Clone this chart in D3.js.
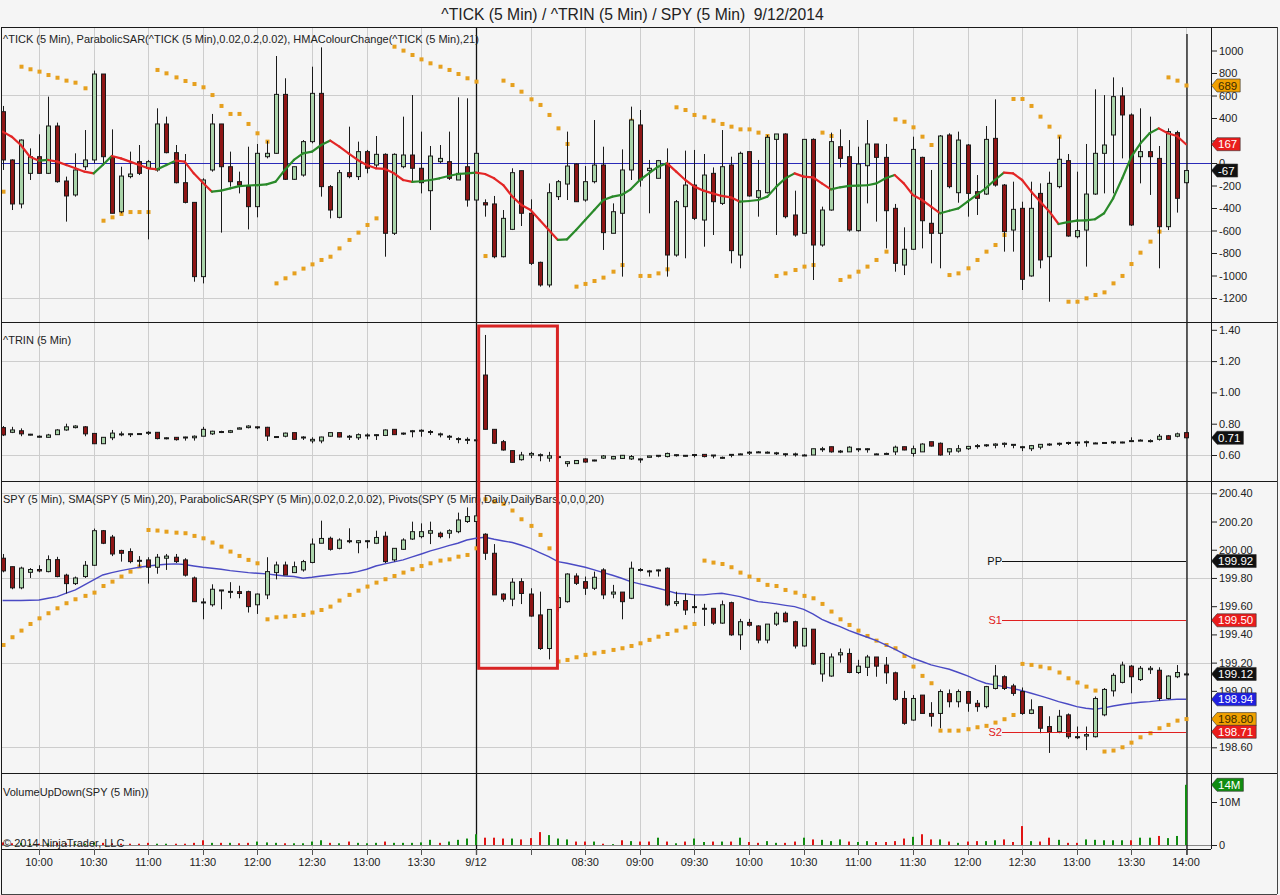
<!DOCTYPE html>
<html>
<head>
<meta charset="utf-8">
<script src="https://cdn.jsdelivr.net/npm/d3@7"></script>
<style>
  body { margin: 0; background: #f5f5f5; }
  svg { display: block; font-family: "Liberation Sans", Arial, sans-serif; }
</style>
</head>
<body>
<script>
// ---- data (bar 0 of each array is 9:40 on 9/11, bars are 5 min apart) ----
var firstBar = -4;   // bar index of array item 0, relative to the 10:00 bar

var xTickBars   = [0, 6, 12, 18, 24, 30, 36, 42, 48, 54, 60, 66, 72, 78, 84, 90, 96, 102, 108, 114, 120, 126];
var xTickLabels = ["10:00", "10:30", "11:00", "11:30", "12:00", "12:30", "13:00", "13:30", "9/12", "",
                   "08:30", "09:00", "09:30", "10:00", "10:30", "11:00", "11:30", "12:00", "12:30",
                   "13:00", "13:30", "14:00"];
var sessionBar = 48;
var lastBar = 126;

// ^TICK
var tickOpen = [456, 27, -364, -92, 56, -92, 329, -160, -284, -33,
  27, 791, 56, -433, -121, 12, -47, -62, 347, 92,
  -175, -350, -1010, -62, 347, -33, -166, -210, -388, 56,
  86, 610, -145, -107, 190, 619, -210, -483, -86, -121,
  101, -18, 77, -625, -33, 71, -47, -246, 12, 12,
  -151, -33, -329, -353, -364, -833, -590, -68, -447, -883,
  -1084, -299, -187, -9, -329, -166, -18, -625, -447, -62,
  338, -68, -136, -3, -818, -388, -196, -507, -92, -359,
  -18, -818, 101, -305, -264, 210, 258, -462, -625, 210,
  -729, -418, 145, 56, -601, -24, 169, 50, -403, -907,
  -767, 50, -536, -625, 249, -264, 160, -255, -276, 219,
  -196, -596, -403, -1004, -270, -833, -210, 21, -655, -596,
  -276, 86, 249, 596, 427, 56, 101, 41, -566, 270,
  -175];
var tickHigh = [507, 33, 210, 130, 255, 590, 359, -121, 86, 293,
  821, 791, 299, -33, 101, 160, 27, 486, 412, 160,
  80, -350, -136, 436, 347, 101, -77, 145, 169, 196,
  951, 753, -33, 204, 856, 1028, -196, -62, 323, 190,
  116, 240, 86, 86, 412, 604, 279, 151, 160, 279,
  584, 575, 101, -323, -293, -418, -47, -68, -323, -877,
  -181, -151, 279, -3, -27, 382, 145, -359, 121, 501,
  471, 27, 27, 130, -329, 110, 116, 80, -39, 293,
  56, 101, 101, 27, 249, 258, 264, -246, 210, 219,
  -388, 270, 299, 204, 145, 382, 169, 169, -364, -572,
  234, 56, -62, 249, 264, 279, 169, -107, 329, 566,
  -187, -166, -344, -166, -181, -77, 234, 80, -77, 169,
  655, 604, 761, 673, 441, 486, 412, 151, 308, 287,
  -62];
var tickLow = [-62, -418, -403, -151, -98, -98, -175, -521, -299, -62,
  -3, -3, -447, -447, -136, -107, -679, -77, 86, -181,
  -359, -1055, -1070, -77, -619, -210, -270, -590, -483, 41,
  80, -151, -151, -121, 175, -299, -492, -492, -136, -151,
  -92, -47, -833, -640, -47, -166, -270, -596, -3, -151,
  -151, -388, -388, -477, -847, -839, -596, -560, -907, -1099,
  -1105, -329, -329, -344, -344, -181, -773, -625, -1010, -151,
  -210, -447, -136, -1010, -833, -847, -507, -744, -640, -373,
  -892, -936, -299, -477, -270, -640, -492, -655, -631, -1040,
  -744, -424, -39, -610, -610, -359, -521, -759, -966, -996,
  -773, -759, -892, -936, -225, -353, -477, -462, -284, -210,
  -788, -788, -1129, -1010, -936, -1233, -225, -655, -670, -921,
  -284, -270, -270, 41, -560, -181, -284, -936, -596, -441,
  -181];
var tickClose = [27, -364, 204, 56, -92, 329, -166, -293, -62, 27,
  791, 56, -447, -116, -98, -92, 12, 347, 92, -175,
  -350, -1010, -151, 347, -33, -166, -196, -388, 86, 86,
  610, -145, -33, 190, 619, -210, -418, -86, -121, 101,
  -47, 77, -625, 77, 71, -47, -175, 62, 41, -136,
  -92, -329, 86, -373, -833, -492, -86, -447, -892, -1084,
  -264, -166, -27, -344, -166, -18, -619, -433, -62, 382,
  -151, -47, 21, -818, -344, -196, -492, -107, -344, -33,
  -779, 86, -293, -246, 228, 258, -477, -640, 210, -729,
  -418, 190, 41, -596, -9, 169, 50, -424, -892, -767,
  121, -513, -625, 240, -210, 204, -270, -314, 210, -196,
  -610, -412, -1034, -403, -862, -181, 33, -649, -601, -276,
  86, 160, 590, 427, -551, 101, 56, -566, 279, -314,
  -67];
var tickSar = [-255, -196, 856, 833, 812, 782, 758, 732, 714, 664,
  613, -513, -483, -453, -436, -436, -436, 827, 797, 761,
  729, 702, 673, 604, 507, 436, 436, 347, 264, 190,
  -1070, -1025, -981, -939, -901, -862, -833, -759, -684, -619,
  -551, -492, -433, 1034, 999, 960, 921, 886, 856, 827,
  791, 753, 723, -827, -803, 732, 693, 634, 566, 516,
  427, 308, 169, -1099, -1075, -1049, -1019, -966, -907, 376,
  -1004, -1004, -981, -945, 495, 471, 427, 406, 376, 347,
  323, 299, 299, 270, 240, -1004, -981, -951, -921, -907,
  270, 240, -1040, -1010, -966, -921, -862, -788, 388, 367,
  317, 234, 160, 121, -996, -981, -936, -862, -788, -729,
  -640, 569, 569, 507, 412, 323, 234, -1233, -1233, -1203,
  -1173, -1150, -1070, -1004, -898, -797, -699, -610, 761, 732,
  689];
var tickHma = [279, 234, 160, 56, 21, 27, 12, -18, -47, -77,
  -92, -18, 62, 41, 12, -18, -47, -56, -18, 21,
  12, -92, -175, -255, -246, -225, -205, -200, -197, -190,
  -166, -62, 27, 86, 101, 160, 199, 145, 86, 27,
  -18, -47, -53, -92, -151, -168, -162, -151, -136, -116,
  -98, -92, -86, -98, -136, -196, -299, -373, -418, -507,
  -596, -684, -679, -596, -507, -418, -329, -299, -284, -234,
  -151, -92, -33, -3, -77, -151, -210, -246, -270, -293,
  -305, -344, -338, -329, -299, -210, -136, -92, -121, -127,
  -181, -234, -216, -204, -201, -198, -181, -136, -107, -181,
  -284, -329, -388, -447, -424, -403, -344, -284, -225, -151,
  -86, -92, -151, -255, -344, -433, -542, -525, -512, -510,
  -500, -447, -314, -136, 56, 175, 264, 308, 264, 240,
  167];

// ^TRIN
var trinOpen = [0.775, 0.745, 0.755, 0.728, 0.715, 0.713, 0.730, 0.760, 0.775, 0.780,
  0.738, 0.672, 0.710, 0.730, 0.735, 0.735, 0.742, 0.745, 0.705, 0.713,
  0.713, 0.710, 0.720, 0.735, 0.745, 0.745, 0.765, 0.775, 0.780, 0.777,
  0.715, 0.720, 0.743, 0.713, 0.690, 0.690, 0.720, 0.743, 0.718, 0.710,
  0.725, 0.728, 0.725, 0.764, 0.735, 0.752, 0.755, 0.745, 0.730, 0.718,
  0.700, 0.695, 0.694, 1.111, 0.764, 0.685, 0.628, 0.570, 0.600, 0.600,
  0.580, 0.585, 0.545, 0.545, 0.575, 0.565, 0.580, 0.575, 0.578, 0.575,
  0.570, 0.585, 0.594, 0.590, 0.600, 0.595, 0.600, 0.604, 0.598, 0.580,
  0.600, 0.605, 0.615, 0.618, 0.616, 0.612, 0.606, 0.606, 0.597, 0.600,
  0.636, 0.653, 0.620, 0.620, 0.636, 0.636, 0.605, 0.608, 0.620, 0.653,
  0.610, 0.620, 0.685, 0.675, 0.620, 0.625, 0.640, 0.655, 0.660, 0.662,
  0.668, 0.663, 0.648, 0.640, 0.650, 0.668, 0.672, 0.675, 0.676, 0.680,
  0.675, 0.679, 0.683, 0.682, 0.690, 0.690, 0.690, 0.700, 0.723, 0.720,
  0.743];
var trinHigh = [0.785, 0.780, 0.770, 0.735, 0.725, 0.735, 0.765, 0.800, 0.790, 0.785,
  0.738, 0.715, 0.760, 0.750, 0.738, 0.740, 0.752, 0.745, 0.713, 0.713,
  0.717, 0.725, 0.780, 0.755, 0.755, 0.760, 0.777, 0.790, 0.782, 0.780,
  0.720, 0.743, 0.743, 0.720, 0.713, 0.717, 0.743, 0.743, 0.728, 0.738,
  0.738, 0.734, 0.764, 0.764, 0.743, 0.760, 0.764, 0.760, 0.743, 0.728,
  0.713, 0.713, 0.700, 1.367, 0.764, 0.696, 0.628, 0.620, 0.620, 0.610,
  0.620, 0.595, 0.560, 0.568, 0.579, 0.570, 0.600, 0.594, 0.600, 0.600,
  0.579, 0.595, 0.600, 0.615, 0.605, 0.600, 0.605, 0.605, 0.600, 0.590,
  0.605, 0.610, 0.625, 0.625, 0.623, 0.620, 0.611, 0.615, 0.605, 0.640,
  0.652, 0.653, 0.632, 0.656, 0.643, 0.643, 0.610, 0.615, 0.660, 0.653,
  0.660, 0.675, 0.685, 0.680, 0.643, 0.664, 0.658, 0.670, 0.670, 0.675,
  0.680, 0.670, 0.658, 0.664, 0.670, 0.675, 0.679, 0.685, 0.685, 0.692,
  0.680, 0.682, 0.685, 0.685, 0.713, 0.700, 0.700, 0.734, 0.728, 0.743,
  0.745];
var trinLow = [0.721, 0.740, 0.720, 0.725, 0.710, 0.712, 0.730, 0.755, 0.770, 0.720,
  0.670, 0.672, 0.695, 0.720, 0.715, 0.728, 0.728, 0.700, 0.700, 0.692,
  0.692, 0.692, 0.720, 0.728, 0.740, 0.740, 0.765, 0.770, 0.765, 0.690,
  0.713, 0.713, 0.696, 0.696, 0.675, 0.675, 0.717, 0.713, 0.696, 0.696,
  0.700, 0.696, 0.721, 0.728, 0.728, 0.713, 0.717, 0.728, 0.713, 0.696,
  0.675, 0.670, 0.690, 0.764, 0.670, 0.628, 0.551, 0.564, 0.580, 0.560,
  0.557, 0.575, 0.525, 0.545, 0.550, 0.560, 0.575, 0.572, 0.575, 0.568,
  0.550, 0.585, 0.585, 0.585, 0.590, 0.590, 0.585, 0.585, 0.579, 0.575,
  0.585, 0.605, 0.600, 0.615, 0.610, 0.600, 0.590, 0.590, 0.595, 0.600,
  0.620, 0.615, 0.612, 0.620, 0.620, 0.615, 0.600, 0.600, 0.600, 0.630,
  0.590, 0.620, 0.654, 0.596, 0.600, 0.615, 0.632, 0.640, 0.652, 0.643,
  0.649, 0.643, 0.625, 0.625, 0.636, 0.658, 0.658, 0.664, 0.658, 0.653,
  0.670, 0.675, 0.670, 0.675, 0.685, 0.690, 0.680, 0.692, 0.696, 0.713,
  0.707];
var trinClose = [0.728, 0.760, 0.735, 0.733, 0.720, 0.728, 0.760, 0.780, 0.785, 0.735,
  0.672, 0.713, 0.740, 0.735, 0.736, 0.737, 0.745, 0.705, 0.710, 0.698,
  0.715, 0.720, 0.764, 0.752, 0.750, 0.755, 0.773, 0.785, 0.777, 0.721,
  0.718, 0.740, 0.700, 0.715, 0.700, 0.715, 0.743, 0.715, 0.720, 0.730,
  0.728, 0.730, 0.760, 0.730, 0.740, 0.755, 0.758, 0.750, 0.735, 0.720,
  0.705, 0.700, 0.697, 0.764, 0.675, 0.632, 0.553, 0.600, 0.610, 0.602,
  0.595, 0.590, 0.557, 0.565, 0.555, 0.568, 0.594, 0.590, 0.598, 0.590,
  0.575, 0.594, 0.598, 0.610, 0.602, 0.598, 0.603, 0.590, 0.600, 0.585,
  0.604, 0.607, 0.618, 0.620, 0.618, 0.614, 0.608, 0.607, 0.600, 0.640,
  0.640, 0.620, 0.625, 0.650, 0.640, 0.640, 0.607, 0.610, 0.650, 0.632,
  0.640, 0.670, 0.657, 0.600, 0.640, 0.640, 0.655, 0.660, 0.665, 0.670,
  0.675, 0.668, 0.653, 0.660, 0.668, 0.670, 0.675, 0.680, 0.682, 0.685,
  0.677, 0.680, 0.684, 0.683, 0.692, 0.695, 0.692, 0.720, 0.700, 0.735,
  0.710];

// SPY
var spyOpen = [199.94, 199.88, 199.73, 199.84, 199.86, 199.845, 199.93, 199.82, 199.76, 199.81,
  199.89, 200.135, 200.09, 199.995, 199.987, 199.925, 199.928, 199.876, 199.94, 199.947,
  199.928, 199.80, 199.63, 199.61, 199.715, 199.70, 199.703, 199.703, 199.61, 199.68,
  199.838, 199.892, 199.838, 199.857, 199.91, 200.046, 200.081, 200.01, 200.064, 200.05,
  200.058, 200.046, 200.096, 199.928, 200.003, 200.076, 200.093, 200.117, 200.117, 200.117,
  200.128, 200.20, 200.20, 200.11, 199.975, 199.686, 199.65, 199.774, 199.686, 199.538,
  199.30, 199.59, 199.632, 199.814, 199.774, 199.727, 199.857, 199.686, 199.70, 199.656,
  199.86, 199.85, 199.857, 199.869, 199.62, 199.64, 199.59, 199.585, 199.585, 199.48,
  199.625, 199.397, 199.485, 199.46, 199.36, 199.473, 199.55, 199.49, 199.318, 199.437,
  199.12, 199.105, 199.255, 199.265, 199.13, 199.167, 199.24, 199.183, 199.128, 198.946,
  198.793, 198.97, 198.84, 198.84, 198.98, 198.923, 198.995, 198.912, 198.888, 199.017,
  199.10, 199.035, 198.995, 198.84, 198.888, 198.747, 198.71, 198.83, 198.675, 198.68,
  198.675, 198.83, 199.00, 199.06, 199.175, 199.08, 199.15, 199.146, 198.946, 199.10,
  199.12];
var spyHigh = [199.97, 199.88, 199.88, 199.87, 199.89, 199.96, 199.95, 199.83, 199.81, 199.92,
  200.15, 200.14, 200.105, 200.00, 200.01, 199.955, 199.947, 199.97, 199.97, 199.97,
  199.94, 199.81, 199.656, 199.755, 199.715, 199.77, 199.745, 199.71, 199.69, 199.947,
  199.916, 199.916, 199.916, 199.928, 200.08, 200.206, 200.093, 200.081, 200.152, 200.069,
  200.069, 200.135, 200.128, 200.01, 200.081, 200.199, 200.187, 200.199, 200.128, 200.145,
  200.263, 200.30, 200.35, 200.117, 200.04, 199.691, 199.798, 199.798, 199.727, 199.703,
  199.577, 199.68, 199.833, 199.833, 199.81, 199.845, 199.869, 199.751, 199.70, 199.916,
  199.87, 199.857, 199.86, 199.875, 199.703, 199.69, 199.68, 199.617, 199.585, 199.64,
  199.632, 199.51, 199.51, 199.465, 199.473, 199.562, 199.562, 199.497, 199.443, 199.437,
  199.27, 199.265, 199.30, 199.30, 199.22, 199.255, 199.24, 199.24, 199.136, 199.00,
  198.97, 198.97, 198.92, 199.01, 199.01, 199.01, 199.00, 198.935, 199.035, 199.183,
  199.11, 199.05, 199.024, 198.94, 198.888, 198.82, 198.865, 198.84, 198.747, 198.747,
  198.96, 199.02, 199.125, 199.207, 199.183, 199.176, 199.176, 199.167, 199.11, 199.183,
  199.13];
var spyLow = [199.84, 199.72, 199.72, 199.80, 199.84, 199.84, 199.805, 199.69, 199.75, 199.80,
  199.885, 200.04, 199.955, 199.916, 199.904, 199.88, 199.76, 199.83, 199.857, 199.906,
  199.81, 199.632, 199.507, 199.597, 199.578, 199.656, 199.656, 199.555, 199.545, 199.65,
  199.79, 199.821, 199.838, 199.845, 199.904, 200.046, 199.994, 200.003, 200.046, 199.975,
  200.01, 200.04, 199.906, 199.916, 199.999, 200.069, 200.081, 200.04, 200.081, 200.081,
  200.117, 200.19, 200.19, 199.928, 199.68, 199.632, 199.60, 199.615, 199.526, 199.29,
  199.223, 199.56, 199.625, 199.75, 199.68, 199.715, 199.65, 199.656, 199.507, 199.65,
  199.845, 199.81, 199.81, 199.60, 199.60, 199.538, 199.55, 199.46, 199.468, 199.475,
  199.39, 199.29, 199.455, 199.337, 199.337, 199.46, 199.485, 199.30, 199.313, 199.184,
  199.065, 199.10, 199.20, 199.125, 199.12, 199.105, 199.10, 199.05, 198.93, 198.76,
  198.788, 198.84, 198.747, 198.735, 198.883, 198.883, 198.852, 198.852, 198.876, 199.01,
  199.006, 198.965, 198.83, 198.835, 198.70, 198.56, 198.70, 198.66, 198.658, 198.58,
  198.67, 198.82, 198.96, 199.053, 198.983, 199.07, 199.12, 198.93, 198.94, 199.09,
  199.115];
var spyClose = [199.85, 199.73, 199.87, 199.86, 199.85, 199.93, 199.81, 199.76, 199.80, 199.89,
  200.135, 200.046, 199.97, 199.975, 199.916, 199.918, 199.876, 199.947, 199.955, 199.916,
  199.82, 199.632, 199.625, 199.72, 199.71, 199.705, 199.69, 199.597, 199.686, 199.845,
  199.892, 199.821, 199.88, 199.916, 200.04, 200.08, 200.003, 200.069, 200.058, 200.064,
  200.064, 200.087, 199.916, 200.01, 200.069, 200.128, 200.128, 200.135, 200.093, 200.135,
  200.211, 200.235, 200.24, 199.975, 199.68, 199.65, 199.77, 199.69, 199.53, 199.30,
  199.577, 199.66, 199.828, 199.762, 199.727, 199.805, 199.68, 199.70, 199.632, 199.869,
  199.857, 199.845, 199.857, 199.609, 199.632, 199.573, 199.597, 199.585, 199.48, 199.61,
  199.397, 199.49, 199.465, 199.36, 199.473, 199.55, 199.49, 199.318, 199.443, 199.19,
  199.265, 199.24, 199.27, 199.13, 199.175, 199.24, 199.175, 199.128, 198.94, 198.77,
  198.946, 198.84, 198.82, 198.995, 198.923, 198.995, 198.912, 198.888, 199.03, 199.105,
  199.017, 198.982, 198.84, 198.865, 198.735, 198.71, 198.82, 198.675, 198.67, 198.69,
  198.946, 199.01, 199.11, 199.183, 199.10, 199.16, 199.16, 198.946, 199.105, 199.13,
  199.12];
var spySma = [199.640, 199.640, 199.640, 199.642, 199.644, 199.656, 199.668, 199.692, 199.715, 199.751,
  199.786, 199.821, 199.838, 199.852, 199.864, 199.876, 199.885, 199.892, 199.897, 199.900,
  199.895, 199.885, 199.876, 199.869, 199.862, 199.852, 199.845, 199.838, 199.833, 199.829,
  199.821, 199.814, 199.810, 199.798, 199.805, 199.814, 199.821, 199.829, 199.833, 199.845,
  199.862, 199.885, 199.900, 199.914, 199.928, 199.949, 199.970, 199.992, 200.010, 200.029,
  200.046, 200.069, 200.081, 200.088, 200.074, 200.062, 200.051, 200.032, 200.010, 199.980,
  199.951, 199.916, 199.904, 199.890, 199.876, 199.857, 199.838, 199.819, 199.798, 199.774,
  199.758, 199.743, 199.727, 199.710, 199.692, 199.687, 199.680, 199.680, 199.687, 199.692,
  199.680, 199.668, 199.649, 199.632, 199.625, 199.616, 199.606, 199.597, 199.578, 199.545,
  199.507, 199.479, 199.455, 199.427, 199.403, 199.380, 199.356, 199.325, 199.295, 199.262,
  199.231, 199.208, 199.184, 199.168, 199.153, 199.130, 199.106, 199.078, 199.054, 199.042,
  199.030, 199.016, 199.002, 198.983, 198.964, 198.945, 198.924, 198.907, 198.888, 198.877,
  198.870, 198.879, 198.893, 198.903, 198.912, 198.919, 198.924, 198.931, 198.936, 198.940,
  198.940];
var spySar = [199.325, 199.380, 199.427, 199.474, 199.514, 199.550, 199.585, 199.621, 199.649, 199.673,
  199.696, 199.743, 199.774, 199.810, 199.845, 199.881, 200.140, 200.136, 200.128, 200.121,
  200.117, 200.098, 200.081, 200.051, 200.022, 199.987, 199.956, 199.928, 199.904, 199.507,
  199.521, 199.526, 199.531, 199.538, 199.555, 199.573, 199.597, 199.640, 199.680, 199.710,
  199.739, 199.767, 199.791, 199.814, 199.838, 199.862, 199.885, 199.904, 199.923, 199.932,
  199.951, 199.963, 200.010, 200.358, 200.341, 200.325, 200.278, 200.216, 200.169, 200.105,
  200.010, 199.208, 199.219, 199.238, 199.255, 199.266, 199.276, 199.290, 199.302, 199.318,
  199.337, 199.361, 199.384, 199.403, 199.427, 199.450, 199.474, 199.923, 199.909, 199.899,
  199.876, 199.838, 199.810, 199.786, 199.751, 199.743, 199.715, 199.696, 199.673, 199.656,
  199.616, 199.562, 199.507, 199.467, 199.427, 199.389, 199.356, 199.325, 199.302, 199.247,
  199.172, 199.106, 199.054, 198.718, 198.718, 198.718, 198.728, 198.742, 198.752, 198.775,
  198.799, 198.829, 199.191, 199.184, 199.172, 199.160, 199.130, 199.089, 199.059, 199.030,
  199.002, 198.570, 198.577, 198.600, 198.633, 198.671, 198.700, 198.735, 198.759, 198.789,
  198.80];
// SPY volume, millions
var spyVolume = [0.6, 0.4, 0.5, 0.3, 0.3, 0.4, 0.5, 0.4, 0.3, 0.3,
  0.6, 0.5, 0.4, 0.3, 0.3, 0.3, 0.5, 0.3, 0.3, 0.3,
  0.3, 0.5, 1.1, 0.5, 0.5, 0.5, 0.4, 0.5, 0.8, 0.6,
  0.5, 0.4, 0.4, 0.4, 0.8, 1.1, 0.5, 0.4, 0.8, 0.5,
  0.4, 0.5, 0.8, 0.5, 0.5, 0.5, 0.6, 1.2, 0.5, 0.8,
  1.2, 1.5, 2.5, 1.7, 1.7, 1.5, 1.5, 1.3, 1.6, 3.0,
  2.3, 1.5, 1.3, 0.8, 0.8, 0.8, 0.3, 0.2, 1.1, 0.9,
  0.8, 0.8, 1.7, 0.8, 0.4, 0.8, 1.5, 0.7, 0.8, 0.8,
  0.8, 1.7, 0.7, 0.5, 0.9, 0.5, 0.5, 0.8, 1.7, 1.3,
  1.2, 0.9, 1.3, 0.8, 0.7, 0.9, 0.7, 0.7, 0.9, 1.5,
  1.9, 2.5, 1.3, 1.3, 0.8, 0.5, 0.8, 0.9, 0.9, 1.1,
  1.3, 0.7, 4.4, 0.9, 0.8, 1.7, 1.2, 0.5, 0.5, 1.3,
  1.2, 1.1, 1.1, 1.1, 1.1, 1.7, 1.7, 2.1, 1.6, 2.1,
  14];

// daily pivots drawn over the last 20 bars
var pivotNames  = ["PP", "S1", "S2"];
var pivotValues = [199.92, 199.50, 198.71];
var pivotColors = ["#111", "#e02020", "#e02020"];
var pivotBars = 20;

// axis ticks
var tickAxisValues = [1000, 800, 600, 400, 200, 0, -200, -400, -600, -800, -1000, -1200];
var tickGridValues = [600, -600, -1200];
var trinAxisValues = [1.4, 1.2, 1.0, 0.8, 0.6];
var trinGridValues = [1.2, 0.6];
var spyAxisValues = [200.4, 200.2, 200.0, 199.8, 199.6, 199.4, 199.2, 199.0, 198.8, 198.6];
var spyGridValues = [200.4, 199.8, 199.2, 198.6];
var volAxisValues = [10, 0];

// ---- layout ----
var svgWidth = 1280;
var svgHeight = 895;
var plotLeft = 1, plotRight = 1211, frameRight = 1277;
var panelTop = 27, trinTop = 322, spyTop = 481, volTop = 773, volBottom = 849;
var font = "'Liberation Sans', Arial, sans-serif";

var upFill = "#a9d3a9", downFill = "#8e1616", candleLine = "#1a1a1a";
var sarColor = "#e6a01e";

var svg = d3.select("body").append("svg")
  .attr("width", svgWidth)
  .attr("height", svgHeight);

svg.append("rect").attr("width", svgWidth).attr("height", svgHeight).attr("fill", "#f5f5f5");

// scales
var x = d3.scaleLinear().domain([0, 126]).range([39, 1186]);
var tickY = d3.scaleLinear().domain([-1200, 1000]).range([298, 50.5]);
var trinY = d3.scaleLinear().domain([0.6, 1.4]).range([455, 329.8]);
var spyY = d3.scaleLinear().domain([198.6, 200.4]).range([747.3, 493.3]);
var volY = d3.scaleLinear().domain([0, 10]).range([845, 802]);

function bx(i) { return Math.round(x(i + firstBar)); }
var bars = d3.range(tickOpen.length);
var n = bars.length - 1;

// title
svg.append("text")
  .attr("x", 632.5).attr("y", 20)
  .attr("text-anchor", "middle")
  .attr("font-family", font).attr("font-size", 15.7).attr("fill", "#222")
  .style("white-space", "pre")
  .text("^TICK (5 Min) / ^TRIN (5 Min) / SPY (5 Min)  9/12/2014");

// vertical grid lines
svg.append("g").selectAll("line").data(xTickBars).enter().append("line")
  .attr("x1", d => Math.round(x(d)) + 0.5).attr("x2", d => Math.round(x(d)) + 0.5)
  .attr("y1", panelTop).attr("y2", volBottom)
  .attr("stroke", "#cdcdcd");

// horizontal grid lines
function hGrid(values, y) {
  svg.append("g").selectAll("line").data(values).enter().append("line")
    .attr("x1", plotLeft).attr("x2", plotRight)
    .attr("y1", d => Math.round(y(d)) + 0.5).attr("y2", d => Math.round(y(d)) + 0.5)
    .attr("stroke", "#cdcdcd");
}
hGrid(tickGridValues, tickY);
hGrid(trinGridValues, trinY);
hGrid(spyGridValues, spyY);

// zero line on ^TICK
svg.append("line")
  .attr("x1", plotLeft).attr("x2", plotRight)
  .attr("y1", Math.round(tickY(0)) + 0.5).attr("y2", Math.round(tickY(0)) + 0.5)
  .attr("stroke", "#2a2ab8");

// volume base line
svg.append("line")
  .attr("x1", plotLeft).attr("x2", plotRight)
  .attr("y1", Math.round(volY(0)) + 0.5).attr("y2", Math.round(volY(0)) + 0.5)
  .attr("stroke", "#888");

// session break
svg.append("line")
  .attr("x1", Math.round(x(sessionBar)) + 0.5).attr("x2", Math.round(x(sessionBar)) + 0.5)
  .attr("y1", panelTop).attr("y2", volBottom + 6)
  .attr("stroke", "#111").attr("stroke-width", 1.3);

// vertical line on the last bar
svg.append("line")
  .attr("x1", Math.round(x(lastBar)) + 1).attr("x2", Math.round(x(lastBar)) + 1)
  .attr("y1", 34).attr("y2", volBottom + 6)
  .attr("stroke", "#111").attr("stroke-width", 1.3);

// candles
function drawCandles(o, h, l, c, y) {
  var g = svg.append("g");
  g.selectAll("line").data(bars).enter().append("line")
    .attr("x1", i => bx(i) + 0.5).attr("x2", i => bx(i) + 0.5)
    .attr("y1", i => y(h[i])).attr("y2", i => y(l[i]))
    .attr("stroke", candleLine);
  g.selectAll("rect").data(bars).enter().append("rect")
    .attr("x", i => bx(i) - 1.5)
    .attr("width", 4)
    .attr("y", i => y(Math.max(o[i], c[i])))
    .attr("height", i => Math.max(1, Math.abs(y(o[i]) - y(c[i]))))
    .attr("fill", i => c[i] >= o[i] ? upFill : downFill)
    .attr("stroke", candleLine).attr("stroke-width", 1);
}

function drawSar(values, y) {
  svg.append("g").selectAll("rect").data(bars).enter().append("rect")
    .attr("x", i => bx(i) - 1.5).attr("y", i => y(values[i]) - 2)
    .attr("width", 4).attr("height", 4)
    .attr("fill", sarColor);
}

// ^TICK panel
drawSar(tickSar, tickY);
drawCandles(tickOpen, tickHigh, tickLow, tickClose, tickY);
svg.append("g").selectAll("line").data(bars.slice(0, -1)).enter().append("line")
  .attr("x1", i => x(i + firstBar)).attr("y1", i => tickY(tickHma[i]))
  .attr("x2", i => x(i + 1 + firstBar)).attr("y2", i => tickY(tickHma[i + 1]))
  .attr("stroke", i => tickHma[i + 1] >= tickHma[i] ? "#2a8a2a" : "#e32626")
  .attr("stroke-width", 2.2).attr("stroke-linecap", "round");

// ^TRIN panel
drawCandles(trinOpen, trinHigh, trinLow, trinClose, trinY);

// SPY panel
drawSar(spySar, spyY);
svg.append("path")
  .datum(bars)
  .attr("d", d3.line().x(i => x(i + firstBar)).y(i => spyY(spySma[i])))
  .attr("fill", "none").attr("stroke", "#4a4ac4").attr("stroke-width", 1.4);
drawCandles(spyOpen, spyHigh, spyLow, spyClose, spyY);

// pivots
var pivotStart = Math.round(x(lastBar - pivotBars)) - 2;
pivotValues.forEach(function(v, j) {
  var yy = Math.round(spyY(v)) + 0.5;
  svg.append("line")
    .attr("x1", pivotStart).attr("x2", Math.round(x(lastBar)))
    .attr("y1", yy).attr("y2", yy)
    .attr("stroke", pivotColors[j]);
  svg.append("text")
    .attr("x", pivotStart).attr("y", yy).attr("dy", "0.35em")
    .attr("text-anchor", "end")
    .attr("font-family", font).attr("font-size", 11).attr("fill", pivotColors[j])
    .text(pivotNames[j]);
});

// volume panel
svg.append("g").selectAll("rect").data(bars).enter().append("rect")
  .attr("x", i => bx(i) - 1).attr("width", 2)
  .attr("y", i => volY(spyVolume[i]))
  .attr("height", i => volY(0) - volY(spyVolume[i]))
  .attr("fill", i => spyClose[i] >= spyOpen[i] ? "#118c11" : "#e01414");

// panel captions
var captions = [
  ["^TICK (5 Min), ParabolicSAR(^TICK (5 Min),0.02,0.2,0.02), HMAColourChange(^TICK (5 Min),21)", 43],
  ["^TRIN (5 Min)", 344],
  ["SPY (5 Min), SMA(SPY (5 Min),20), ParabolicSAR(SPY (5 Min),0.02,0.2,0.02), Pivots(SPY (5 Min),Daily,DailyBars,0,0,0,20)", 503],
  ["VolumeUpDown(SPY (5 Min))", 796],
  ["\u00a9 2014 NinjaTrader, LLC", 847]
];
svg.append("g").selectAll("text").data(captions).enter().append("text")
  .attr("x", 3).attr("y", d => d[1])
  .attr("font-family", font).attr("font-size", 11).attr("fill", "#222")
  .text(d => d[0]);

// frame
var frame = svg.append("g").attr("stroke", "#1a1a1a").attr("fill", "none");
[panelTop, trinTop, spyTop, volTop].forEach(function(yy) {
  frame.append("line").attr("x1", plotLeft).attr("x2", frameRight)
    .attr("y1", yy + 0.5).attr("y2", yy + 0.5);
});
frame.append("line").attr("x1", plotLeft).attr("x2", plotRight)
  .attr("y1", volBottom + 0.5).attr("y2", volBottom + 0.5);
frame.append("line").attr("x1", plotLeft + 0.5).attr("x2", plotLeft + 0.5)
  .attr("y1", panelTop).attr("y2", 894);
frame.append("line").attr("x1", plotRight + 0.5).attr("x2", plotRight + 0.5)
  .attr("y1", panelTop).attr("y2", volBottom);
frame.append("line").attr("x1", plotLeft).attr("x2", frameRight)
  .attr("y1", 894.5).attr("y2", 894.5).attr("stroke", "#444");
frame.append("line").attr("x1", frameRight + 0.5).attr("x2", frameRight + 0.5)
  .attr("y1", panelTop).attr("y2", 894).attr("stroke", "#444");

// last-value tags on the price axis (value, label, fill, text colour)
var f2 = d3.format(".2f");
var tickTags = [
  [tickSar[n], String(tickSar[n]), "#f0a000", "#3a2a00"],
  [tickHma[n], String(tickHma[n]), "#ea1c1c", "#fff"],
  [tickClose[n], String(tickClose[n]), "#111", "#fff"]
];
var trinTags = [[trinClose[n], f2(trinClose[n]), "#111", "#fff"]];
var spyTags = [
  [pivotValues[0], f2(pivotValues[0]), "#111", "#fff"],
  [pivotValues[1], f2(pivotValues[1]), "#ea1c1c", "#fff"],
  [spyClose[n], f2(spyClose[n]), "#111", "#fff"],
  [spySma[n], f2(spySma[n]), "#2020e0", "#fff"],
  [spySar[n], f2(spySar[n]), "#f0a000", "#3a2a00"],
  [pivotValues[2], f2(pivotValues[2]), "#ea1c1c", "#fff"]
];
var volTags = [[spyVolume[n], spyVolume[n] + "M", "#118c11", "#fff"]];

// right price axes; a label that sits right under a tag is hidden by it
function rightAxis(y, values, fmt, tags) {
  var shown = values.filter(v => tags.every(t => Math.abs(y(t[0]) - y(v)) > 5));
  var g = svg.append("g")
    .attr("transform", "translate(" + plotRight + ",0)")
    .call(d3.axisRight(y).tickValues(values).tickFormat(v => shown.indexOf(v) >= 0 ? fmt(v) : "")
      .tickSize(6).tickPadding(2));
  g.select(".domain").remove();
  g.attr("font-family", font).attr("font-size", 11);
  g.selectAll("line").attr("stroke", "#222");
  g.selectAll("text").attr("fill", "#222");
}
rightAxis(tickY, tickAxisValues, d => String(d), tickTags);
rightAxis(trinY, trinAxisValues, d3.format(".2f"), trinTags);
rightAxis(spyY, spyAxisValues, d3.format(".2f"), spyTags);
rightAxis(volY, volAxisValues, d => d === 0 ? "0" : d + "M", volTags);

function addTags(y, tags) {
  tags.forEach(function(t) {
    var yy = y(t[0]);
    var g = svg.append("g");
    var shape = g.append("path");
    var txt = g.append("text")
      .attr("x", plotRight + 7).attr("y", yy).attr("dy", "0.36em")
      .attr("font-family", font).attr("font-size", 11.5).attr("fill", t[3])
      .text(t[1]);
    var w = txt.node().getComputedTextLength() + 4;
    shape.attr("d", "M" + (plotRight + 0.5) + "," + yy +
        "L" + (plotRight + 6) + "," + (yy - 6.5) +
        "L" + (plotRight + 6 + w) + "," + (yy - 6.5) +
        "L" + (plotRight + 6 + w) + "," + (yy + 6.5) +
        "L" + (plotRight + 6) + "," + (yy + 6.5) + "Z")
      .attr("fill", t[2]).attr("stroke", "#333").attr("stroke-width", 0.6);
  });
}
addTags(tickY, tickTags);
addTags(trinY, trinTags);
addTags(spyY, spyTags);
addTags(volY, volTags);

// highlight box around the open
svg.append("rect")
  .attr("x", x(48.3)).attr("y", trinY(1.424))
  .attr("width", x(56.95) - x(48.3)).attr("height", spyY(199.16) - trinY(1.424))
  .attr("fill", "none").attr("stroke", "#d82424").attr("stroke-width", 3);

// time axis
var xAxis = svg.append("g");
xAxis.selectAll("line").data(xTickBars).enter().append("line")
  .attr("x1", d => Math.round(x(d)) + 0.5).attr("x2", d => Math.round(x(d)) + 0.5)
  .attr("y1", volBottom).attr("y2", volBottom + 6)
  .attr("stroke", "#555");
xAxis.selectAll("text").data(xTickBars).enter().append("text")
  .attr("x", d => x(d)).attr("y", 866)
  .attr("text-anchor", "middle")
  .attr("font-family", font).attr("font-size", 11).attr("fill", "#222")
  .text((d, i) => xTickLabels[i]);
</script>
</body>
</html>
